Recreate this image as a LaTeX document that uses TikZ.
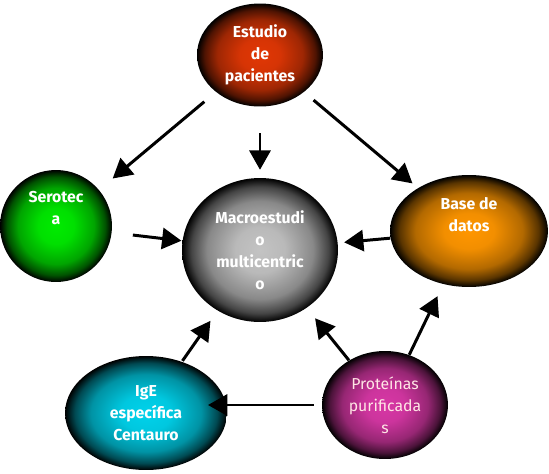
\documentclass[tikz,border=0pt]{standalone}
\usepackage{fontspec}
\setmainfont{Fira Sans}
\usetikzlibrary{arrows.meta,shapes.geometric}

\definecolor{estcol}{RGB}{225,55,5}
\definecolor{serocol}{RGB}{0,235,0}
\definecolor{macrocol}{RGB}{195,195,195}
\definecolor{basecol}{RGB}{255,150,0}
\definecolor{igecol}{RGB}{0,210,235}
\definecolor{protcol}{RGB}{215,55,165}
\colorlet{orbcol}{black}
\pgfdeclareradialshading[orbcol]{orb}{\pgfpointorigin}{color(0bp)=(orbcol); color(8bp)=(orbcol!95!black); color(17bp)=(orbcol!70!black); color(22bp)=(orbcol!35!black); color(25bp)=(black); color(50bp)=(black)}

\tikzset{
  ball/.style={ellipse, inner sep=0pt, /utils/exec={\colorlet{orbcol}{#1}}, shading=orb,
    text=white, font=\bfseries\fontsize{9}{12.5}\selectfont, align=center},
  balltext/.style={text=white, font=\bfseries\fontsize{9}{12.5}\selectfont, align=center},
  link/.style={line width=1.7pt, -{Triangle[length=11pt,width=12pt]}},
}

\begin{document}
\begin{tikzpicture}[x=0.02cm, y=-0.02cm]
    \useasboundingbox (0,0) rectangle (549,474);

    \node (estudio) [ball=estcol, minimum width=2.52cm, minimum height=2.06cm] at (260,55) {Estudio\\de\\pacientes};
    \node (serotec) [ball=serocol, minimum width=2.24cm, minimum height=2.24cm] at (56,226) {};
    \node [balltext] at ([yshift=10pt]serotec.center) {Serotec\\a};
    \node (macro) [ball=macrocol, minimum width=3.12cm, minimum height=2.88cm] at (260,250) {Macroestudi\\o\\multicentric\\o};
    \node (base) [ball=basecol, minimum width=3.16cm, minimum height=2.24cm] at (469,231) {};
    \node [balltext] at ([yshift=9.5pt]base.center) {Base de\\datos};
    \node (ige) [ball=igecol, minimum width=3.24cm, minimum height=2.28cm] at (146,413) {IgE\\específica\\Centauro};
    \node (prot) [ball=protcol, minimum width=2.52cm, minimum height=2.16cm, font=\fontsize{9}{12.5}\selectfont, text=pink!40] at (385,405) {Proteínas\\purificada\\s};

    % arrows between the balls
    \draw[link, shorten <=8.5pt, shorten >=10pt] (estudio) -- (serotec);
    \draw[link, shorten <=15pt, shorten >=4.5pt] (estudio) -- (macro);
    \draw[link, shorten <=7pt, shorten >=4pt] (estudio) -- (base);
    \draw[link, shorten <=12pt, shorten >=0.5pt] (serotec) -- (macro);
    \draw[link, shorten >=3.5pt] (base) -- (macro);
    \draw[link, shorten <=0.5pt, shorten >=7pt] (ige) -- (macro);
    \draw[link, shorten >=7.5pt] (prot) -- (macro);
    \draw[link, shorten >=7.5pt] (prot) -- (base);
    \draw[link, yshift=-1.7pt, shorten <=4.5pt, shorten >=-11pt] (prot.west) -- (prot.west -| ige.east);
\end{tikzpicture}
\end{document}
